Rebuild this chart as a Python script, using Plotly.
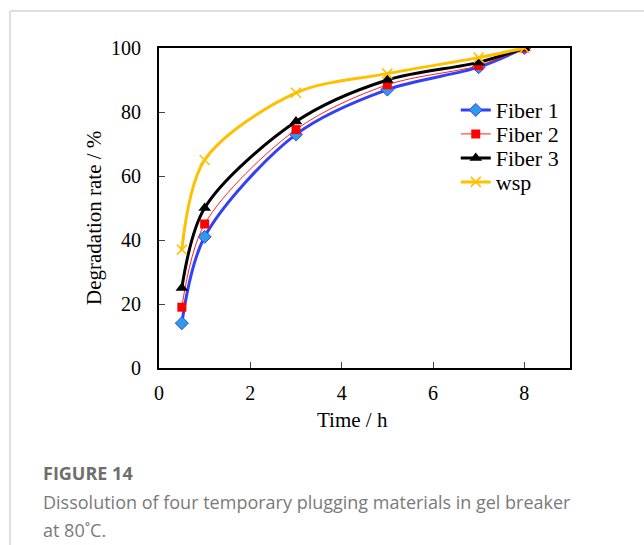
import plotly.graph_objects as go

time_h = [0.5, 1, 3, 5, 7, 8]
fiber1 = [14, 41, 73, 87, 94, 100]
fiber2 = [19, 45, 74.5, 88.5, 94.5, 100]
fiber3 = [25, 50, 77, 90, 95.5, 100]
wsp = [37, 65, 86, 92, 97, 100]

x_ticks = [0, 2, 4, 6, 8]
y_ticks = [0, 20, 40, 60, 80, 100]

serif = "Liberation Serif, Times New Roman, serif"

fig = go.Figure()
fig.add_trace(go.Scatter(
    x=time_h, y=fiber1, name="Fiber 1", mode="lines+markers", legend="legend",
    line=dict(color="#3340F5", width=3, shape="spline", smoothing=0.9),
    marker=dict(symbol="diamond", size=10, color="#2E9BE6", line=dict(color="#3340F5", width=1))))
fig.add_trace(go.Scatter(
    x=time_h, y=fiber2, name="Fiber 2", mode="lines+markers", legend="legend2",
    line=dict(color="#FF2020", width=1, shape="spline", smoothing=0.9),
    marker=dict(symbol="square", size=9, color="#FF0000")))
fig.add_trace(go.Scatter(
    x=time_h, y=fiber3, name="Fiber 3", mode="lines+markers", legend="legend3",
    line=dict(color="#000000", width=3, shape="spline", smoothing=0.9),
    marker=dict(symbol="triangle-up", size=11, color="#000000")))
fig.add_trace(go.Scatter(
    x=time_h, y=wsp, name="wsp", mode="lines+markers", legend="legend4",
    line=dict(color="#FFC000", width=3, shape="spline", smoothing=0.9),
    marker=dict(symbol="x-thin", size=10, color="#FFC000", line=dict(color="#FFC000", width=1.5))))

def leg(yc):
    return dict(x=0.722, y=yc, xanchor="left", yanchor="middle",
                bgcolor="rgba(0,0,0,0)", font=dict(family=serif, size=22),
                itemwidth=30)

fig.update_layout(
    width=644, height=545,
    margin=dict(l=159, r=74, t=48, b=177),
    paper_bgcolor="white", plot_bgcolor="white",
    font=dict(family=serif, size=20, color="black"),
    showlegend=True,
    legend=leg(0.806), legend2=leg(0.731), legend3=leg(0.656), legend4=leg(0.581),
    xaxis=dict(range=[0, 9], tickvals=x_ticks, ticks="inside", ticklen=6,
               showline=True, linecolor="black", linewidth=2, mirror=True,
               showgrid=False, zeroline=False, ticklabelstandoff=6),
    yaxis=dict(range=[0, 100], tickvals=y_ticks, ticks="inside", ticklen=6,
               showline=True, linecolor="black", linewidth=2, mirror=True,
               showgrid=False, zeroline=False, ticklabelstandoff=12),
)

# axis titles (placed slightly off-centre as in the reference)
fig.add_annotation(xref="paper", yref="paper", x=-0.158, y=0.469,
                   xanchor="center", yanchor="middle", textangle=-90,
                   text="Degradation rate / %", showarrow=False,
                   font=dict(family=serif, size=21, color="black"))
fig.add_annotation(xref="paper", yref="paper", x=0.472, y=-0.1625,
                   xanchor="center", yanchor="middle",
                   text="Time / h", showarrow=False,
                   font=dict(family=serif, size=21, color="black"))

# card border (light gray top and left lines)
fig.add_shape(type="line", xref="paper", yref="paper", x0=-0.3625, x1=1.2, y0=1.1156, y1=1.1156,
              line=dict(color="#D4D4D4", width=1.5))
fig.add_shape(type="line", xref="paper", yref="paper", x0=-0.3625, x1=-0.3625, y0=1.1156, y1=-0.56,
              line=dict(color="#D4D4D4", width=1.5))

cap_font = "Open Sans, Noto Sans, sans-serif"
fig.add_annotation(xref="paper", yref="paper", x=-0.287, y=-0.328, xanchor="left", yanchor="middle",
                   text="<b>FIGURE 14</b>", showarrow=False,
                   font=dict(family=cap_font, size=18, color="#6E6E6E"))
fig.add_annotation(xref="paper", yref="paper", x=-0.287, y=-0.42, xanchor="left", yanchor="middle",
                   text="Dissolution of four temporary plugging materials in gel breaker",
                   showarrow=False, font=dict(family=cap_font, size=18, color="#7A7A7A"))
fig.add_annotation(xref="paper", yref="paper", x=-0.287, y=-0.505, xanchor="left", yanchor="middle",
                   text="at 80˚C.", showarrow=False,
                   font=dict(family=cap_font, size=18, color="#7A7A7A"))

fig.write_html("out.html")
